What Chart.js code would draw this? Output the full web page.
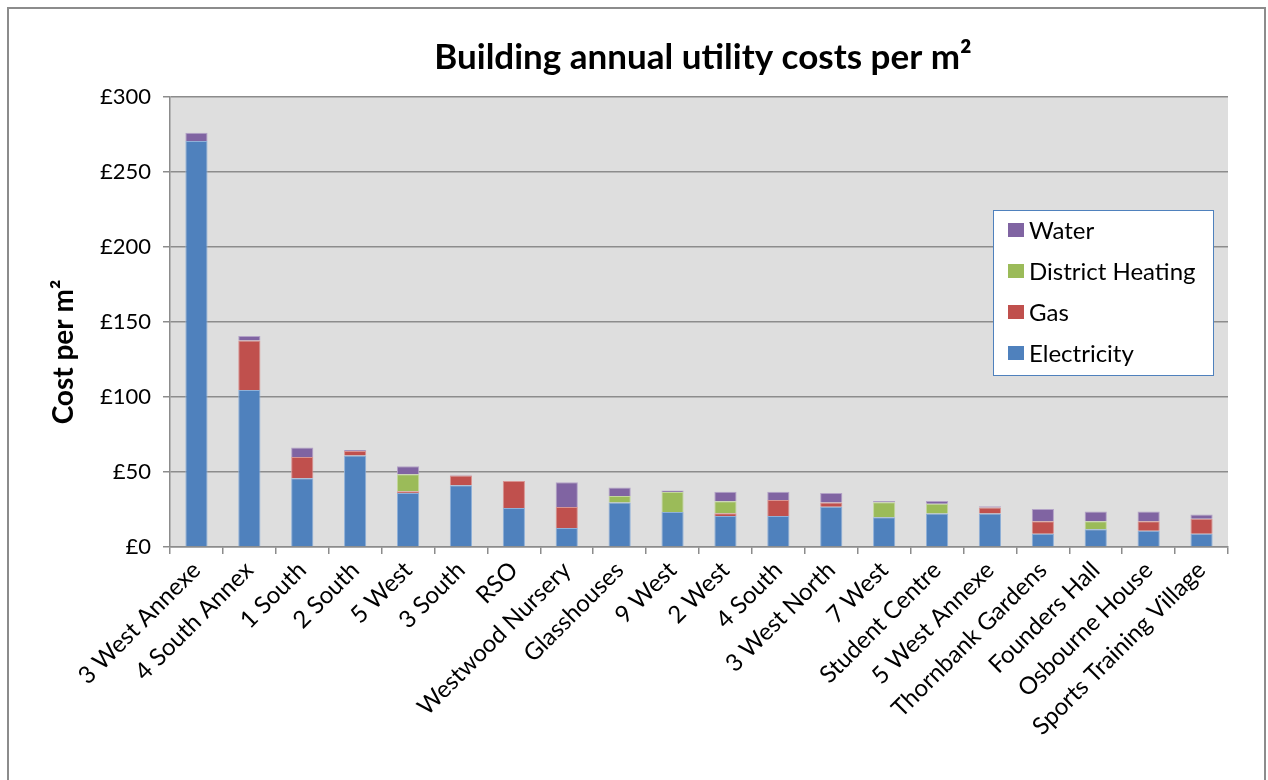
<!DOCTYPE html>
<html>
<head>
<meta charset="utf-8">
<script src="https://cdn.jsdelivr.net/npm/chart.js@4"></script>
<style>
  html, body { margin: 0; padding: 0; background: #fff; }
  #wrap { width: 1268px; height: 780px; position: relative; }
</style>
</head>
<body>
<div id="wrap"><canvas id="chart" width="1268" height="780"></canvas></div>
<script>
// Building annual utility costs per m2
const buildings = [
  "3 West Annexe", "4 South Annex", "1 South", "2 South", "5 West", "3 South", "RSO",
  "Westwood Nursery", "Glasshouses", "9 West", "2 West", "4 South", "3 West North",
  "7 West", "Student Centre", "5 West Annexe", "Thornbank Gardens", "Founders Hall",
  "Osbourne House", "Sports Training Village"
];
const electricity = [270.6, 104.7, 45.8, 61.0, 36.0, 41.1, 26.0, 12.7, 29.6, 23.3, 20.7, 20.7, 26.9, 19.8, 22.4, 22.4, 8.9, 11.8, 10.9, 8.9];
const gas         = [0, 33.0, 14.2, 3.0, 1.1, 6.5, 18.0, 14.0, 0, 0, 1.8, 10.6, 2.7, 0, 0, 4.0, 8.2, 0, 6.2, 10.0];
const districtHeating = [0, 0, 0, 0, 11.4, 0, 0, 0, 4.4, 13.4, 8.0, 0, 0, 10.0, 6.5, 0, 0, 5.3, 0, 0];
const water       = [5.5, 3.0, 6.3, 0.7, 5.3, 0.6, 0, 16.4, 5.6, 0.9, 6.4, 5.6, 6.4, 0.9, 1.8, 0.7, 8.2, 6.5, 6.5, 2.7];

const yTicks = [0, 50, 100, 150, 200, 250, 300];
const FONT = "Lato, 'Open Sans', sans-serif";

// background of the plot area, outer frame, titles and inline legend
const decor = {
  id: "decor",
  beforeDraw(chart) {
    const { ctx, chartArea: a } = chart;
    ctx.save();
    ctx.fillStyle = "#dedede";
    ctx.fillRect(a.left, a.top, a.right - a.left, a.bottom - a.top);
    ctx.restore();
  },
  afterDraw(chart) {
    const { ctx, chartArea: a } = chart;
    ctx.save();
    // frame
    ctx.strokeStyle = "#8c8c8c";
    ctx.lineWidth = 2;
    ctx.strokeRect(8, 8, 1257, 800);
    // title
    ctx.fillStyle = "#000";
    ctx.font = "bold 35px " + FONT;
    ctx.textAlign = "center";
    ctx.textBaseline = "middle";
    ctx.fillText("Building annual utility costs per m²", 703, 58);
    // y axis title
    ctx.save();
    ctx.translate(64, 352);
    ctx.rotate(-Math.PI / 2);
    ctx.font = "bold 28px " + FONT;
    ctx.fillText("Cost per m²", 0, 0);
    ctx.restore();
    // legend box
    const lx = 993, ly = 210, lw = 220, lh = 165;
    ctx.fillStyle = "#fff";
    ctx.fillRect(lx, ly, lw, lh);
    ctx.strokeStyle = "#4f81bd";
    ctx.lineWidth = 1;
    ctx.strokeRect(lx + 0.5, ly + 0.5, lw, lh);
    const ds = chart.data.datasets.slice().reverse();
    ctx.font = "24px " + FONT;
    ctx.textAlign = "left";
    ds.forEach((d, i) => {
      const cy = ly + 20 + i * 41;
      ctx.fillStyle = d.backgroundColor;
      ctx.fillRect(lx + 15, cy - 7, 16, 14);
      ctx.fillStyle = "#000";
      ctx.fillText(d.label, lx + 36, cy + 1);
    });
    ctx.restore();
  }
};

new Chart(document.getElementById("chart"), {
  type: "bar",
  data: {
    labels: buildings,
    datasets: [
      { label: "Electricity", data: electricity, backgroundColor: "#4f81bd", borderColor: "#8fb0d8", borderWidth: 1 },
      { label: "Gas", data: gas, backgroundColor: "#c0504d", borderColor: "#d99391", borderWidth: 1 },
      { label: "District Heating", data: districtHeating, backgroundColor: "#9bbb59", borderColor: "#c3d79b", borderWidth: 1 },
      { label: "Water", data: water, backgroundColor: "#8064a2", borderColor: "#b3a2c7", borderWidth: 1 }
    ]
  },
  options: {
    responsive: false,
    animation: false,
    layout: { padding: { top: 97, left: 44, right: 40, bottom: 0 } },
    datasets: { bar: { categoryPercentage: 0.42, barPercentage: 1 } },
    plugins: { legend: { display: false }, title: { display: false }, tooltip: { enabled: false } },
    scales: {
      x: {
        stacked: true,
        afterFit: s => { s.height = 233; },
        grid: { offset: true, drawOnChartArea: false, drawTicks: true, tickLength: 7, color: "#8c8c8c", lineWidth: 1.5 },
        border: { color: "#8c8c8c", width: 1.5 },
        ticks: { color: "#000", font: { family: FONT, size: 24 }, minRotation: 45, maxRotation: 45, autoSkip: false, padding: 2 }
      },
      y: {
        stacked: true,
        min: 0, max: 300,
        afterFit: s => { s.width = 126; },
        afterBuildTicks: s => { s.ticks = yTicks.map(v => ({ value: v })); },
        grid: { color: "#8c8c8c", lineWidth: 1.5, tickLength: 7 },
        border: { color: "#8c8c8c", width: 1.5 },
        ticks: { color: "#000", font: { family: FONT, size: 22 }, padding: 12, callback: v => "£" + v }
      }
    }
  },
  plugins: [decor]
});
</script>
</body>
</html>
